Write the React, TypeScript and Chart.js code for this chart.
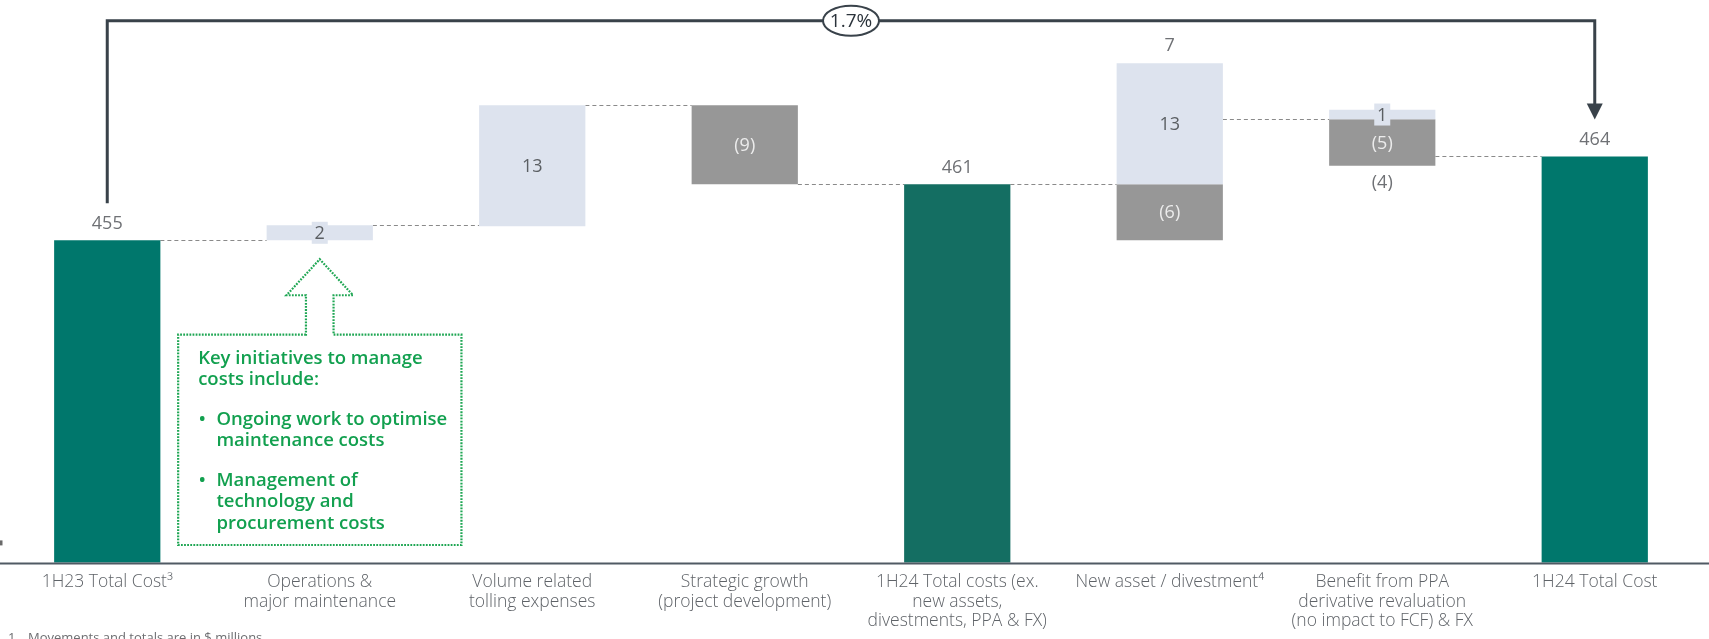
import React, { useEffect, useRef } from 'react';
import { Chart, registerables } from 'chart.js';

Chart.register(...registerables);

// ---------- data ----------
const categories: string[][] = [
  ['1H23 Total Cost\u00B3'],
  ['Operations &', 'major maintenance'],
  ['Volume related', 'tolling expenses'],
  ['Strategic growth', '(project development)'],
  ['1H24 Total costs (ex.', 'new assets,', 'divestments, PPA & FX)'],
  ['New asset / divestment\u2074'],
  ['Benefit from PPA', 'derivative revaluation', '(no impact to FCF) & FX'],
  ['1H24 Total Cost'],
];

const totals = [455, null, null, null, 461, null, null, 464];
const totalColors = ['#00776c', null, null, null, '#146e62', null, null, '#00776c'];

// floating ranges
const increaseRanges = [null, [455, 456.6], [456.5, 469.5], null, null, [461, 474], [468, 469], null];
const decreaseRanges = [null, null, null, [461, 469.5], null, [455, 461], [463, 468], null];

// printed labels
const increaseLabels = [null, 2, 13, null, null, 13, 1, null];
const decreaseLabels = [null, null, null, -9, null, -6, -5, null];
const netLabels = [null, null, null, null, null, 7, -4, null];

// dashed connector levels between column i and i+1
const connectorLevels = [455, 456.6, 469.5, 461, 461, 468, 464];

const growthLabel = '1.7%';
const calloutTitle = ['Key initiatives to manage', 'costs include:'];
const calloutBullets = [
  ['Ongoing work to optimise', 'maintenance costs'],
  ['Management of', 'technology and', 'procurement costs'],
];
const footnoteNumber = '1';
const footnoteText = 'Movements and totals are in $ millions';

const FONT = "'Open Sans', 'Noto Sans', sans-serif";
const LIGHT = '#dde3ee';
const GREY = '#979797';
const DARK = '#39424a';
const GREEN_TEXT = '#12a04f';
const GREEN_LINE = '#1ea653';

const fmt = (v: number) => (v < 0 ? `(${Math.abs(v)})` : `${v}`);

const overlay = {
  id: 'overlay',
  beforeDatasetsDraw(chart: any) {
    const ctx = chart.ctx;
    const y = chart.scales.y;
    const metas = [0, 1, 2].map((i) => chart.getDatasetMeta(i));
    const colEdges = (i: number) => {
      let left = Infinity;
      let right = -Infinity;
      metas.forEach((m: any) => {
        const el = m.data[i];
        if (!el || el.width == null || isNaN(el.x)) return;
        const ds = chart.data.datasets[m.index].data[i];
        if (ds == null) return;
        left = Math.min(left, el.x - el.width / 2);
        right = Math.max(right, el.x + el.width / 2);
      });
      return { left, right };
    };
    ctx.save();
    ctx.strokeStyle = '#8a8a8a';
    ctx.lineWidth = 1.2;
    ctx.setLineDash([4, 3]);
    connectorLevels.forEach((lvl, i) => {
      const a = colEdges(i);
      const b = colEdges(i + 1);
      const py = Math.round(y.getPixelForValue(lvl)) + 0.5;
      ctx.beginPath();
      ctx.moveTo(a.right, py);
      ctx.lineTo(b.left, py);
      ctx.stroke();
    });
    ctx.restore();
  },
  afterDatasetsDraw(chart: any) {
    const ctx = chart.ctx;
    const mTot = chart.getDatasetMeta(0);
    const mInc = chart.getDatasetMeta(1);
    const mDec = chart.getDatasetMeta(2);
    ctx.save();
    ctx.textAlign = 'center';
    ctx.textBaseline = 'middle';
    ctx.font = `18px ${FONT}`;

    totals.forEach((v, i) => {
      if (v == null) return;
      const el = mTot.data[i];
      ctx.fillStyle = '#6f7175';
      ctx.fillText(String(v), el.x, el.y - 16.5);
    });

    increaseLabels.forEach((v, i) => {
      if (v == null) return;
      const el = mInc.data[i];
      const top = Math.min(el.y, el.base);
      const bot = Math.max(el.y, el.base);
      const cy = (top + bot) / 2;
      if (bot - top < 22) {
        ctx.fillStyle = LIGHT;
        ctx.fillRect(el.x - 8, cy - 11, 16, 22);
      }
      ctx.fillStyle = '#5b5f63';
      ctx.fillText(fmt(v), el.x, cy + 1);
    });

    decreaseLabels.forEach((v, i) => {
      if (v == null) return;
      const el = mDec.data[i];
      const top = Math.min(el.y, el.base);
      const bot = Math.max(el.y, el.base);
      ctx.fillStyle = '#ececec';
      ctx.fillText(fmt(v), el.x, (top + bot) / 2 + 1);
    });

    netLabels.forEach((v, i) => {
      if (v == null) return;
      const a = mInc.data[i];
      const b = mDec.data[i];
      const top = Math.min(a.y, a.base, b.y, b.base);
      const bot = Math.max(a.y, a.base, b.y, b.base);
      ctx.fillStyle = '#6f7175';
      if (v >= 0) ctx.fillText(fmt(v), a.x, top - 17);
      else ctx.fillText(fmt(v), a.x, bot + 17);
    });
    ctx.restore();
  },
  afterDraw(chart: any) {
    const ctx = chart.ctx;
    const area = chart.chartArea;
    const W = chart.width;
    const H = chart.height;
    const mTot = chart.getDatasetMeta(0);
    const mInc = chart.getDatasetMeta(1);
    ctx.save();

    // x axis line
    ctx.strokeStyle = '#505a64';
    ctx.lineWidth = 2;
    ctx.beginPath();
    ctx.moveTo(0, area.bottom + 1);
    ctx.lineTo(W, area.bottom + 1);
    ctx.stroke();
    ctx.fillStyle = '#6a6a6a';
    ctx.fillRect(0, area.bottom - 22, 2.5, 5);

    // bracket with growth
    const first = mTot.data[0];
    const last = mTot.data[totals.length - 1];
    const bracketY = 20.7;
    ctx.strokeStyle = DARK;
    ctx.lineWidth = 3;
    ctx.lineJoin = 'miter';
    ctx.beginPath();
    ctx.moveTo(first.x, first.y - 37);
    ctx.lineTo(first.x, bracketY);
    ctx.lineTo(last.x, bracketY);
    ctx.lineTo(last.x, last.y - 52);
    ctx.stroke();
    ctx.fillStyle = DARK;
    ctx.beginPath();
    ctx.moveTo(last.x - 8, last.y - 53);
    ctx.lineTo(last.x + 8, last.y - 53);
    ctx.lineTo(last.x, last.y - 37);
    ctx.closePath();
    ctx.fill();

    const ex = (first.x + last.x) / 2;
    ctx.beginPath();
    ctx.ellipse(ex, bracketY, 28, 15, 0, 0, Math.PI * 2);
    ctx.fillStyle = '#ffffff';
    ctx.fill();
    ctx.lineWidth = 2;
    ctx.stroke();
    ctx.fillStyle = '#2b333b';
    ctx.font = `19px ${FONT}`;
    ctx.textAlign = 'center';
    ctx.textBaseline = 'middle';
    ctx.fillText(growthLabel, ex, bracketY + 1);

    // callout
    const b2 = mInc.data[1];
    const tipX = b2.x;
    const tipY = Math.max(b2.y, b2.base) + 19;
    const headY = tipY + 36;
    const headHalf = 33.3;
    const shaftHalf = 13.8;
    const boxTop = tipY + 75.4;
    const boxLeft = tipX - 141.6;
    const boxRight = tipX + 141.7;
    const boxBottom = area.bottom - 17.4;
    ctx.strokeStyle = GREEN_LINE;
    ctx.lineWidth = 2.2;
    ctx.setLineDash([1.8, 1.3]);
    ctx.beginPath();
    ctx.moveTo(tipX - shaftHalf, boxTop);
    ctx.lineTo(boxLeft, boxTop);
    ctx.lineTo(boxLeft, boxBottom);
    ctx.lineTo(boxRight, boxBottom);
    ctx.lineTo(boxRight, boxTop);
    ctx.lineTo(tipX + shaftHalf, boxTop);
    ctx.lineTo(tipX + shaftHalf, headY);
    ctx.lineTo(tipX + headHalf, headY);
    ctx.lineTo(tipX, tipY);
    ctx.lineTo(tipX - headHalf, headY);
    ctx.lineTo(tipX - shaftHalf, headY);
    ctx.closePath();
    ctx.stroke();
    ctx.setLineDash([]);

    ctx.fillStyle = GREEN_TEXT;
    ctx.font = `600 18.5px ${FONT}`;
    ctx.textAlign = 'left';
    ctx.textBaseline = 'middle';
    const lh = 21.6;
    let yy = boxTop + 24;
    calloutTitle.forEach((t) => {
      ctx.fillText(t, boxLeft + 20, yy);
      yy += lh;
    });
    yy += 17.8;
    calloutBullets.forEach((lines) => {
      ctx.fillText('\u2022', boxLeft + 20.5, yy);
      lines.forEach((t) => {
        ctx.fillText(t, boxLeft + 38.3, yy);
        yy += lh;
      });
      yy += 17.8;
    });

    // footnote
    ctx.fillStyle = '#6d6e71';
    ctx.font = `13px ${FONT}`;
    ctx.textBaseline = 'middle';
    ctx.fillText(footnoteNumber, 8, H - 1);
    ctx.fillText(footnoteText, 28, H - 1);
    ctx.restore();
  },
};

export default function App() {
  const ref = useRef<HTMLCanvasElement | null>(null);
  useEffect(() => {
    if (!ref.current) return;
    const chart = new Chart(ref.current, {
      type: 'bar',
      data: {
        labels: categories as any,
        datasets: [
          {
            label: 'Total',
            data: totals as any,
            backgroundColor: totalColors as any,
            grouped: false,
            barPercentage: 0.5,
            categoryPercentage: 1,
          } as any,
          {
            label: 'Increase',
            data: increaseRanges as any,
            backgroundColor: LIGHT,
            grouped: false,
            barPercentage: 0.5,
            categoryPercentage: 1,
          } as any,
          {
            label: 'Decrease',
            data: decreaseRanges as any,
            backgroundColor: GREY,
            grouped: false,
            barPercentage: 0.5,
            categoryPercentage: 1,
          } as any,
        ],
      },
      options: {
        responsive: false,
        animation: false,
        layout: { padding: { left: 1, right: 8, top: 0, bottom: 0 } },
        plugins: {
          legend: { display: false },
          tooltip: { enabled: false },
        },
        scales: {
          x: {
            grid: { display: false, drawTicks: false },
            border: { display: false },
            ticks: {
              color: '#5f6368',
              font: { family: FONT, size: 17.5, weight: '300' as any, lineHeight: 1.12 },
              padding: 10,
              maxRotation: 0,
              minRotation: 0,
              autoSkip: false,
            },
            afterFit: (s: any) => {
              s.height = 76.6;
            },
          },
          y: {
            display: false,
            min: 420.4,
            max: 480.8,
          },
        },
      },
      plugins: [overlay],
    });
    return () => chart.destroy();
  }, []);

  return (
    <div style={{ position: 'absolute', left: 0, top: 0, width: 1709, height: 639, background: '#ffffff' }}>
      <canvas ref={ref} width={1709} height={639} style={{ display: 'block', width: 1709, height: 639 }} />
    </div>
  );
}
